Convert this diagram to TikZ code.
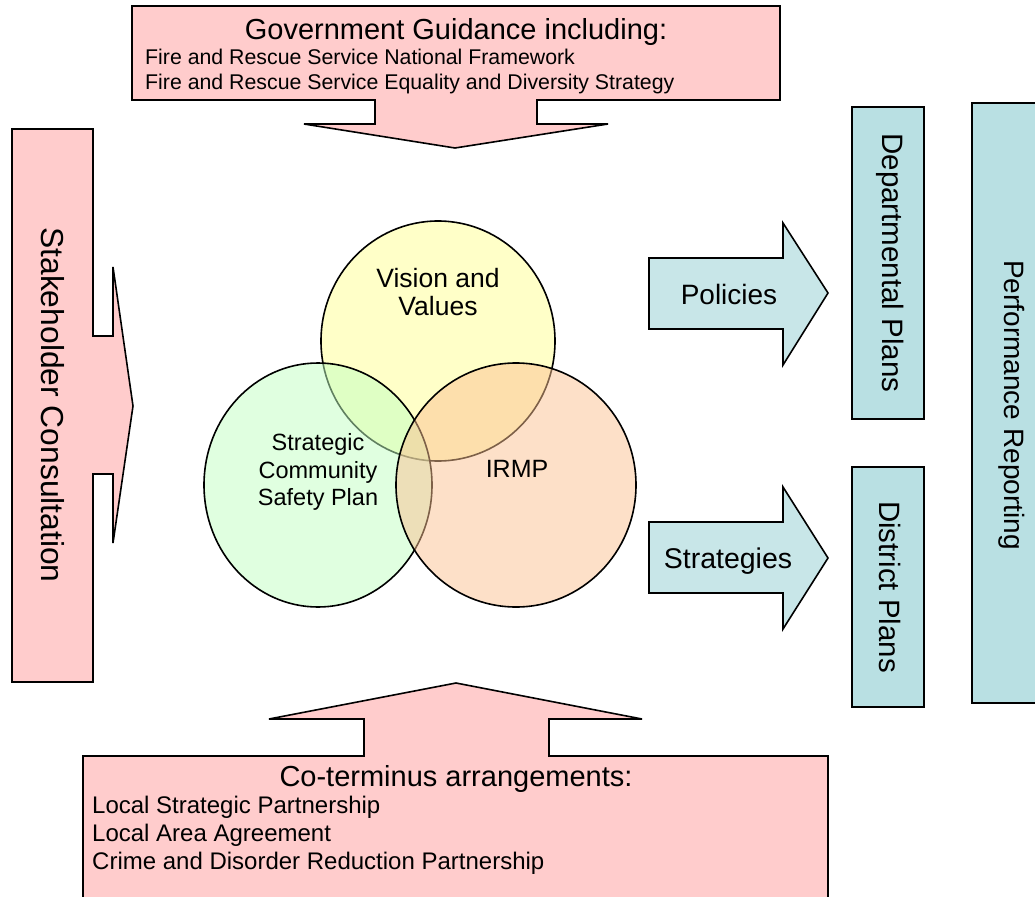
\documentclass[tikz,border=0pt]{standalone}
\usepackage{fontspec}
\setmainfont{Liberation Sans}
\definecolor{calloutpink}{RGB}{255,204,204}
\definecolor{planteal}{RGB}{185,224,227}
\definecolor{arrowteal}{RGB}{200,230,232}
\definecolor{visionyellow}{RGB}{255,255,145}
\definecolor{safetygreen}{RGB}{193,255,193}
\definecolor{irmporange}{RGB}{251,193,145}
\newcommand\setfs[1]{\fontsize{#1}{#1}\selectfont}
\begin{document}
\begin{tikzpicture}[x=1pt,y=-1pt,
  outline/.style={draw=black,line width=1.6pt,line join=miter},
  pinkshape/.style={outline,fill=calloutpink},
  tealbox/.style={outline,fill=planteal},
  tealarrow/.style={outline,fill=arrowteal},
  venn/.style={outline,fill opacity=0.5},
  lbl/.style={inner sep=0pt,text=black},
  basec/.style={lbl,anchor=base},
  basew/.style={lbl,anchor=base west}]
\useasboundingbox (0,0) rectangle (1035,896);

% government guidance callout pointing down
\draw[pinkshape] (132,6) -- (780,6) -- (780,100) -- (537,100) -- (537,124) -- (608,124)
  -- (455,148) -- (304,124) -- (375,124) -- (375,100) -- (132,100) -- cycle;
\node[basec,font=\setfs{29}] (govtitle) at (456,40) {Government Guidance including:};
\node[basew,font=\setfs{21.3}] (govline1) at (145,65) {Fire and Rescue Service National Framework};
\node[basew,font=\setfs{21.3}] (govline2) at (145,90) {Fire and Rescue Service Equality and Diversity Strategy};

% stakeholder consultation callout pointing right
\draw[pinkshape] (12,129) -- (93,129) -- (93,336) -- (113,336) -- (113,267) -- (133,406)
  -- (113,543) -- (113,474) -- (93,474) -- (93,682) -- (12,682) -- cycle;
\node[lbl,rotate=-90,font=\setfs{31.8}] (stake) at (53,405) {Stakeholder Consultation};

% co-terminus arrangements callout pointing up
\draw[pinkshape] (83,905) -- (83,756) -- (364,756) -- (364,719) -- (269,719) -- (456,683)
  -- (642,719) -- (549,719) -- (549,756) -- (828,756) -- (828,905);
\node[basec,font=\setfs{29}] (cotitle) at (456,786) {Co-terminus arrangements:};
\node[basew,font=\setfs{24}] (coline1) at (92,813) {Local Strategic Partnership};
\node[basew,font=\setfs{24}] (coline2) at (92,841) {Local Area Agreement};
\node[basew,font=\setfs{24}] (coline3) at (92,869) {Crime and Disorder Reduction Partnership};

% overlapping circles
\draw[venn,fill=visionyellow] (438,341) ellipse [x radius=117pt,y radius=120pt];
\draw[venn,fill=safetygreen] (318,485) ellipse [x radius=114pt,y radius=122pt];
\draw[venn,fill=irmporange] (516,485) ellipse [x radius=120pt,y radius=122pt];
\node[basec,font=\setfs{26.5}] (vision1) at (438,287) {Vision and};
\node[basec,font=\setfs{26.5}] (vision2) at (438,315) {Values};
\node[basec,font=\setfs{23.5}] (scsp1) at (318,450) {Strategic};
\node[basec,font=\setfs{23.5}] (scsp2) at (318,478) {Community};
\node[basec,font=\setfs{23.5}] (scsp3) at (318,505) {Safety Plan};
\node[basec,font=\setfs{25}] (irmp) at (517,477) {IRMP};

% outputs
\draw[tealarrow] (649,258) -- (783,258) -- (783,223) -- (828,293) -- (783,365) -- (783,329) -- (649,329) -- cycle;
\node[basec,font=\setfs{28}] (policies) at (729,304) {Policies};
\draw[tealarrow] (649,522) -- (783,522) -- (783,487) -- (828,558) -- (783,629) -- (783,593) -- (649,593) -- cycle;
\node[basec,font=\setfs{28.5}] (strategies) at (728,568) {Strategies};

\draw[tealbox] (852,107) rectangle (924,419);
\node[lbl,rotate=-90,font=\setfs{29.5}] (deptplans) at (890,263) {Departmental Plans};
\draw[tealbox] (852,467) rectangle (924,707);
\node[lbl,rotate=-90,font=\setfs{29.4}] (distplans) at (890,587) {District Plans};
\draw[tealbox] (972,103) rectangle (1045,703);
\node[lbl,rotate=-90,font=\setfs{28}] (perfrep) at (1012,405) {Performance Reporting};
\end{tikzpicture}
\end{document}
